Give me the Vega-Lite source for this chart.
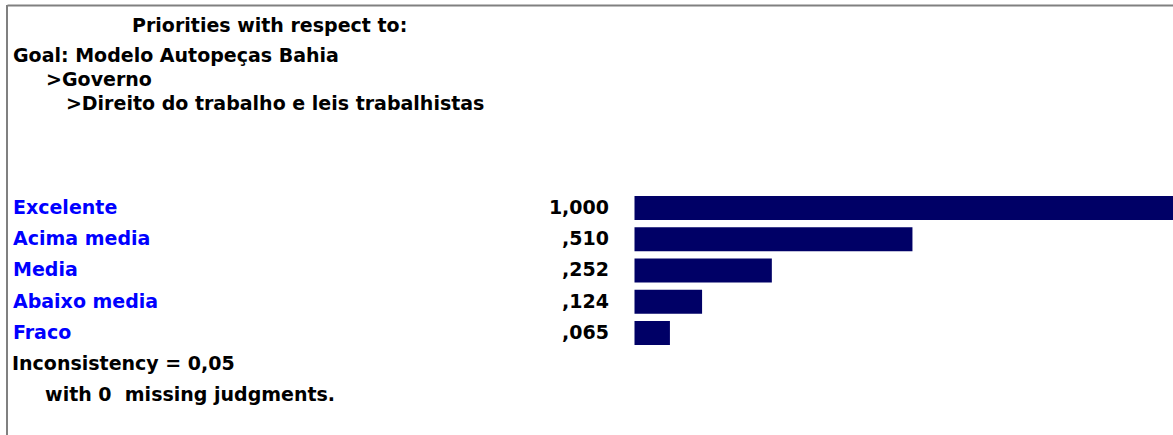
{
  "$schema": "https://vega.github.io/schema/vega-lite/v6.json",
  "autosize": {"type": "none"},
  "padding": {"left": 7, "top": 5, "right": 0, "bottom": 0},
  "width": 1166,
  "height": 430,
  "background": "white",
  "datasets": {
    "priorities": [
      {"name": "Excelente", "value": 1.0},
      {"name": "Acima media", "value": 0.51},
      {"name": "Media", "value": 0.252},
      {"name": "Abaixo media", "value": 0.124},
      {"name": "Fraco", "value": 0.065}
    ],
    "footer": [
      {"name": "Inconsistency = 0,05", "line": "Inconsistency = 0,05"},
      {"name": "with 0  missing judgments.", "line": "\u200b\u00a0\u00a0\u00a0\u00a0\u00a0with 0\u00a0 missing judgments."}
    ]
  },
  "title": {
    "text": "\u200b\u00a0\u00a0\u00a0\u00a0\u00a0\u00a0\u00a0\u00a0\u00a0\u00a0\u00a0\u00a0\u00a0\u00a0\u00a0\u00a0\u00a0\u00a0Priorities with respect to:",
    "subtitle": [
      "Goal: Modelo Autopeças Bahia",
      "\u200b\u00a0\u00a0\u00a0\u00a0\u00a0>Governo",
      "\u200b\u00a0\u00a0\u00a0\u00a0\u00a0\u00a0\u00a0\u00a0>Direito do trabalho e leis trabalhistas"
    ],
    "anchor": "start",
    "frame": "group",
    "orient": "top",
    "offset": -110,
    "dx": 6,
    "font": "DejaVu Sans",
    "fontSize": 19,
    "fontWeight": "bold",
    "color": "black",
    "subtitleFont": "DejaVu Sans",
    "subtitleFontSize": 19,
    "subtitleFontWeight": "bold",
    "subtitleColor": "black",
    "subtitleLineHeight": 24,
    "subtitlePadding": 11
  },
  "layer": [
    {
      "data": {"values": [{}]},
      "mark": {"type": "rule", "color": "#808080", "strokeWidth": 2},
      "encoding": {
        "x": {"datum": -1.15138, "type": "quantitative"}
      }
    },
    {
      "data": {"name": "priorities"},
      "mark": {"type": "bar", "color": "#000066", "height": {"band": 0.77}, "clip": true},
      "encoding": {
        "y": {
          "field": "name",
          "type": "nominal",
          "sort": null,
          "scale": {
            "domain": ["Excelente", "Acima media", "Media", "Abaixo media", "Fraco", "Inconsistency = 0,05", "with 0  missing judgments."],
            "range": [187.3, 406.05],
            "paddingInner": 0,
            "paddingOuter": 0
          },
          "axis": null
        },
        "x": {
          "field": "value",
          "type": "quantitative",
          "scale": {"domain": [-1.15138, 0.98807], "nice": false, "zero": false},
          "axis": {
            "orient": "top",
            "labels": false,
            "ticks": false,
            "grid": false,
            "title": null,
            "domainColor": "#808080",
            "domainWidth": 2
          }
        },
        "x2": {"datum": 0}
      }
    },
    {
      "data": {"name": "priorities"},
      "mark": {"type": "text", "align": "left", "baseline": "middle", "font": "DejaVu Sans", "fontSize": 19, "fontWeight": "bold", "color": "#0000ff"},
      "encoding": {
        "y": {"field": "name", "type": "nominal", "sort": null},
        "x": {"datum": -1.1404, "type": "quantitative"},
        "text": {"field": "name", "type": "nominal"}
      }
    },
    {
      "data": {"name": "priorities"},
      "mark": {
        "type": "text", "align": "right", "baseline": "middle", "font": "DejaVu Sans", "fontSize": 19, "fontWeight": "bold", "color": "black",
        "text": {"expr": "replace(datum.value >= 1 ? format(datum.value, '.3f') : slice(format(datum.value, '.3f'), 1), '.', ',')"}
      },
      "encoding": {
        "y": {"field": "name", "type": "nominal", "sort": null},
        "x": {"datum": -0.0468, "type": "quantitative"}
      }
    },
    {
      "data": {"name": "footer"},
      "mark": {"type": "text", "align": "left", "baseline": "middle", "font": "DejaVu Sans", "fontSize": 19, "fontWeight": "bold", "color": "black"},
      "encoding": {
        "y": {"field": "name", "type": "nominal", "sort": null},
        "x": {"datum": -1.1422, "type": "quantitative"},
        "text": {"field": "line", "type": "nominal"}
      }
    }
  ],
  "config": {"view": {"stroke": null}}
}
